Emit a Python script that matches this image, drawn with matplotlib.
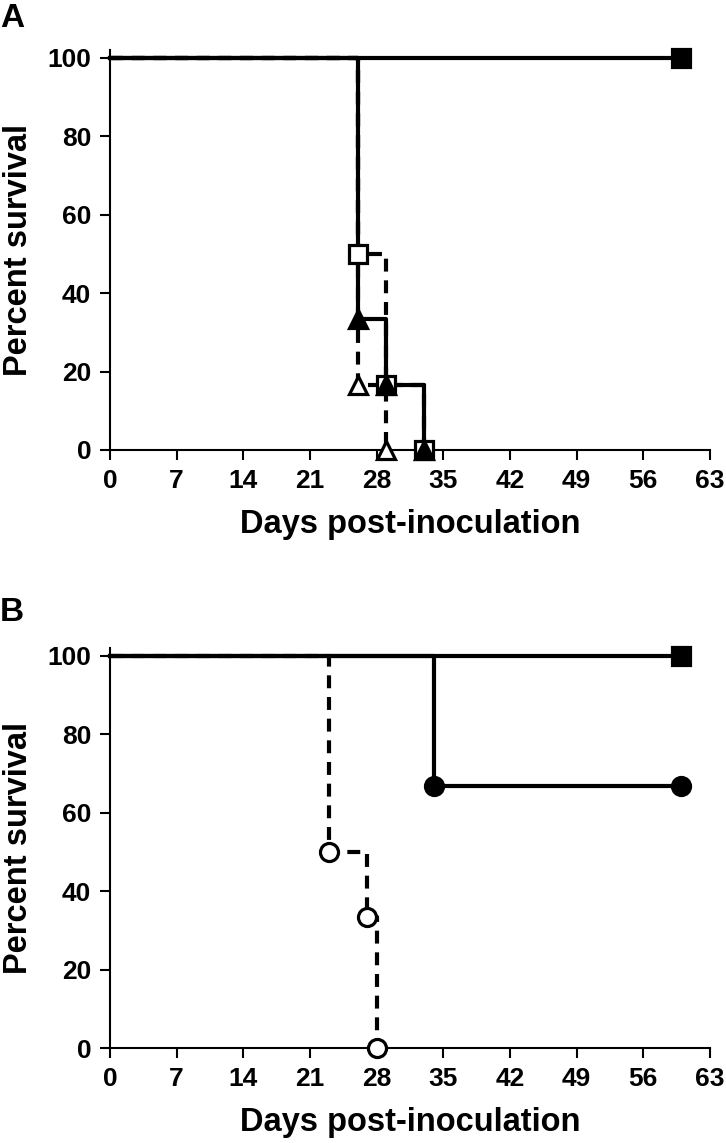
import matplotlib
matplotlib.use("Agg")
import matplotlib.pyplot as plt

plt.rcParams['font.family'] = ['Liberation Sans', 'DejaVu Sans']
plt.rcParams['font.weight'] = 'bold'

# ---- Data (Kaplan-Meier step curves) ----
# Panel A
a_sq_fill_t = [0, 60]
a_sq_fill_s = [100, 100]
a_sq_open_t = [0, 26, 29, 33]
a_sq_open_s = [100, 50, 16.7, 0]
a_tri_fill_t = [0, 26, 29, 33]
a_tri_fill_s = [100, 33.3, 16.7, 0]
a_tri_open_t = [0, 26, 29]
a_tri_open_s = [100, 16.7, 0]

# Panel B
b_sq_fill_t = [0, 60]
b_sq_fill_s = [100, 100]
b_circ_fill_t = [0, 34, 60]
b_circ_fill_s = [100, 66.7, 66.7]
b_circ_open_t = [0, 23, 27, 28]
b_circ_open_s = [100, 50, 33.3, 0]

x_ticks = [0, 7, 14, 21, 28, 35, 42, 49, 56, 63]
y_ticks = [0, 20, 40, 60, 80, 100]
x_label = "Days post-inoculation"
y_label = "Percent survival"

LW = 3.0
DASH = (3.1, 2.1)
MS = 13
MEW = 2.3

fig = plt.figure(figsize=(7.26, 11.43), dpi=100)
axA = fig.add_axes([0.1515, 0.6063, 0.8264, 0.35])
axB = fig.add_axes([0.1515, 0.0831, 0.8264, 0.35])


def km(ax, t, s, dashed, marker, filled, zorder):
    ls = '--' if dashed else '-'
    line, = ax.step(t, s, where='post', color='black', lw=LW, ls=ls,
                    zorder=zorder, clip_on=False)
    if dashed:
        line.set_dashes(DASH)
    ax.plot(t[1:], s[1:], ls='none', marker=marker, ms=MS, mew=MEW,
            mec='black', mfc='black' if filled else 'white',
            zorder=zorder + 5, clip_on=False)


# Panel A
km(axA, a_tri_open_t, a_tri_open_s, True, '^', False, 2)
km(axA, a_sq_open_t, a_sq_open_s, True, 's', False, 3)
km(axA, a_tri_fill_t, a_tri_fill_s, False, '^', True, 4)
km(axA, a_sq_fill_t, a_sq_fill_s, False, 's', True, 5)

# Panel B
km(axB, b_circ_open_t, b_circ_open_s, True, 'o', False, 2)
km(axB, b_circ_fill_t, b_circ_fill_s, False, 'o', True, 4)
km(axB, b_sq_fill_t, b_sq_fill_s, False, 's', True, 5)

for ax in (axA, axB):
    ax.set_xlim(0, 63)
    ax.set_ylim(0, 102)
    ax.set_xticks(x_ticks)
    ax.set_yticks(y_ticks)
    ax.spines['top'].set_visible(False)
    ax.spines['right'].set_visible(False)
    for sp in ('left', 'bottom'):
        ax.spines[sp].set_linewidth(1.5)
    ax.tick_params(axis='both', direction='out', length=7.5, width=1.5,
                   labelsize=19, pad=6)
    for t in ax.get_xticklabels() + ax.get_yticklabels():
        t.set_fontweight('bold')
    ax.set_xlabel(x_label, fontsize=23.5, fontweight='bold')
    ax.set_ylabel(y_label, fontsize=23.5, fontweight='bold')
    ax.xaxis.set_label_coords(0.5, -0.148)
    ax.yaxis.set_label_coords(-0.127, 0.5)
    ax.patch.set_visible(False)

fig.text(0.0, 0.984, 'A', fontsize=24, fontweight='bold', ha='left', va='center')
fig.text(0.0, 0.4637, 'B', fontsize=24, fontweight='bold', ha='left', va='center')

fig.savefig('out.png', dpi=100, facecolor='white')
